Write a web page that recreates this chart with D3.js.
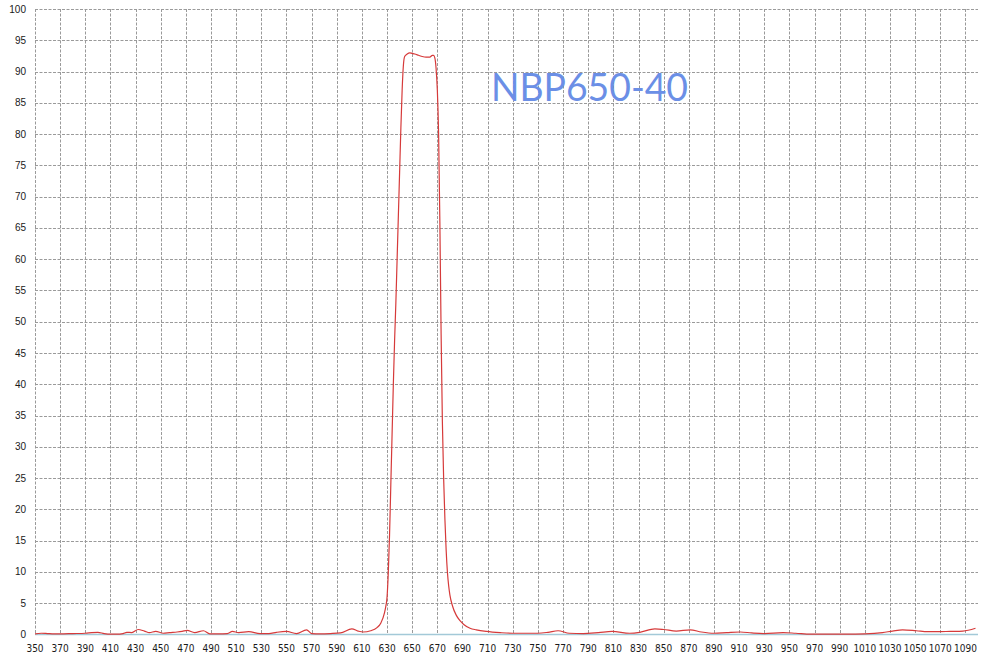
<!DOCTYPE html>
<html><head><meta charset="utf-8">
<script src="https://cdn.jsdelivr.net/npm/d3@7"></script>
<style>html,body{margin:0;padding:0;background:#fff;}svg{display:block;}</style>
</head><body>
<svg id="c" width="1000" height="656"></svg>
<script>
const wavelengths = [350,355,360,365,370,380,390,395,400,405,410,415,420,423,427,432,437,441,446,452,457,463,467,471,477,484,489,496,503,507,512,520,529,536,542,550,558,566,570,577,585,593,602,607,611,617,622,625,628,629,630,631,632,633,634,635,636,637,638,639,640,641,642,643,644,646,648,650,652,655,658,661,664,666,667,668,669,670,671,672,673,674,675,676,677,678,679,680,682,685,688,691,696,701,709,720,730,740,750,758,766,775,786,798,809,823,831,843,850,860,871,880,890,900,911,920,930,945,955,967,980,995,1010,1024,1032,1040,1051,1060,1067,1078,1088,1098];
const transmittance = [0.1,0.2,0.15,0.1,0.1,0.15,0.2,0.3,0.35,0.15,0.05,0.05,0.15,0.35,0.3,0.8,0.55,0.3,0.5,0.2,0.3,0.4,0.5,0.65,0.3,0.6,0.1,0.1,0.15,0.5,0.3,0.45,0.15,0.15,0.35,0.5,0.15,0.75,0.15,0.1,0.15,0.25,0.9,0.55,0.4,0.6,1.1,1.8,3.5,4.5,6,10,16,24,32,40,47,53,60,67,74,81,87,91,92.4,92.8,93.0,92.9,92.8,92.6,92.4,92.3,92.3,92.6,92.6,92.2,90.5,87,80,66,48,34,25,18.5,13.5,10,7.8,6.3,4.6,3.1,2.2,1.6,1.0,0.75,0.5,0.3,0.2,0.2,0.2,0.35,0.6,0.2,0.15,0.3,0.5,0.2,0.35,0.9,0.8,0.55,0.75,0.4,0.2,0.3,0.4,0.25,0.15,0.3,0.2,0.05,0.05,0.05,0.1,0.3,0.55,0.75,0.6,0.45,0.45,0.5,0.55,1.0];
const xTicks = d3.range(350, 1091, 20);
const yTicks = d3.range(0, 101, 5);
const label = "NBP650-40";

const svg = d3.select("#c");
const x = d3.scaleLinear().domain([350, 1100]).range([35, 978]);
const y = d3.scaleLinear().domain([0, 100]).range([634.5, 9]);

const grid = svg.append("g").attr("stroke", "#9a9a9a").attr("stroke-width", 1).attr("stroke-dasharray", "3,1.5");
grid.selectAll("line.h").data(yTicks.filter(d => d > 0)).join("line").attr("class","h")
  .attr("x1", 35).attr("x2", 978).attr("y1", d => Math.round(y(d)) + 0.5).attr("y2", d => Math.round(y(d)) + 0.5);
grid.selectAll("line.v").data(xTicks).join("line").attr("class","v")
  .attr("x1", d => Math.round(x(d)) + 0.5).attr("x2", d => Math.round(x(d)) + 0.5).attr("y1", 9).attr("y2", 634.5);

// bottom axis line
svg.append("line").attr("x1", 35).attr("x2", 978).attr("y1", 634.5).attr("y2", 634.5)
  .attr("stroke", "#a3c9d8").attr("stroke-width", 1.5);

// y labels
svg.append("g").selectAll("text").data(yTicks).join("text")
  .attr("x", 26).attr("y", d => y(d) + 3.5).attr("text-anchor", "end")
  .attr("font-family", "Liberation Sans, Arial, sans-serif").attr("font-size", 10).attr("fill", "#1a1a1a")
  .text(d => d);

// x labels
svg.append("g").selectAll("text").data(xTicks).join("text")
  .attr("x", d => x(d)).attr("y", 652).attr("text-anchor", "middle")
  .attr("font-family", "Liberation Sans Narrow, DejaVu Sans Condensed, Liberation Sans, sans-serif").attr("font-size", 10).attr("fill", "#1a1a1a")
  .text(d => d);

// line
const pts = wavelengths.map((w, i) => [w, transmittance[i]]);
svg.append("path").datum(pts)
  .attr("fill", "none").attr("stroke", "#d63a3a").attr("stroke-width", 1.2)
  .attr("d", d3.line().x(d => x(d[0])).y(d => y(d[1])).curve(d3.curveMonotoneX));

// annotation
svg.append("text").attr("x", 491).attr("y", 101)
  .attr("font-family", "Lato, Open Sans, sans-serif").attr("font-size", 38).attr("fill", "#6b8fe6")
  .attr("textLength", 197).attr("lengthAdjust", "spacingAndGlyphs")
  .text(label);
</script>
</body></html>
